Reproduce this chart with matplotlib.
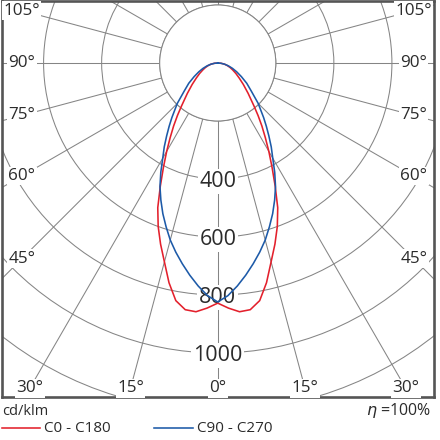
import numpy as np
import matplotlib
matplotlib.use("Agg")
import matplotlib.pyplot as plt
from matplotlib.lines import Line2D
from matplotlib.patches import Circle

plt.rcParams['font.family'] = ['Open Sans', 'DejaVu Sans']

# ---- data (cd/klm), angle from nadir in degrees ----
angles_deg = [0, 2.5, 5, 7.5, 10, 12.5, 15, 17.5, 20, 22.5, 25, 27.5, 30, 32.5,
              35, 37.5, 40, 45, 50, 55, 60, 65, 70, 75, 80, 85, 90]
c0_c180 = [828, 846, 861, 858, 832, 776, 710, 655, 600, 540, 468, 405, 352, 305,
           265, 228, 195, 148, 115, 90, 72, 57, 45, 34, 24, 12, 0]
c90_c270 = [824, 803, 772, 738, 703, 668, 632, 592, 553, 512, 471, 425, 379, 343,
            307, 275, 246, 197, 151, 122, 94, 72, 54, 38, 24, 11, 0]
ring_values = [200, 400, 600, 800, 1000, 1200, 1400]
ring_labels = [400, 600, 800, 1000]
angle_labels = [0, 15, 30, 45, 60, 75, 90, 105]
series_names = ['C0 - C180', 'C90 - C270']
unit_label = 'cd/klm'
efficiency = '100%'

RED = '#e3202c'
BLUE = '#1d5aa8'
GRID = '#858585'
TXT = '#2b2b2b'

W = H = 440
fig = plt.figure(figsize=(4.4, 4.4), dpi=100)
ax = fig.add_axes([1.5 / W, 1 - 397 / H, 432.5 / W, 396 / H])
ax.set_xlim(-745, 745)
ax.set_ylim(-1151.7, 213.8)
ax.set_xticks([])
ax.set_yticks([])
for s in ax.spines.values():
    s.set_color('#555555')
    s.set_linewidth(1.9)

# rings
for r in ring_values:
    ax.add_patch(Circle((0, 0), r, fill=False, ec=GRID, lw=0.75, zorder=1))

# radial lines every 15 deg
for a in range(0, 360, 15):
    t = np.deg2rad(a)
    dx, dy = np.sin(t), -np.cos(t)
    ax.plot([200 * dx, 2500 * dx], [200 * dy, 2500 * dy], color=GRID, lw=0.75, zorder=1)

# white inner disc (200 ring)
ax.add_patch(Circle((0, 0), 200, fc='white', ec=GRID, lw=0.75, zorder=1.5))

# angle labels placed where spoke meets an inset rectangle
xin, yin = 675, -1122
for a in angle_labels:
    for sgn in ([1] if a == 0 else [-1, 1]):
        t = np.deg2rad(a)
        dx, dy = sgn * np.sin(t), -np.cos(t)
        cands = []
        if abs(dx) > 1e-9:
            cands.append(xin / abs(dx))
        if dy < -1e-9:
            cands.append(yin / dy)
        tt = min(cands)
        ax.text(tt * dx, tt * dy, f'{a}°', ha='center', va='center', fontsize=12.3,
                color=TXT, zorder=3,
                bbox=dict(boxstyle='square,pad=0.08', fc='white', ec='none'))

# ring labels
for r in ring_labels:
    ax.text(0, -r - 8, f'{r}', ha='center', va='center', fontsize=15.5, color=TXT, zorder=3,
            bbox=dict(boxstyle='square,pad=0.08', fc='white', ec='none'))

# curves (symmetric halves)
ang = np.array(angles_deg, dtype=float)
full_ang = np.concatenate([-ang[::-1], ang[1:]])
for vals, col in [(c0_c180, RED), (c90_c270, BLUE)]:
    v = np.array(vals, dtype=float)
    full_v = np.concatenate([v[::-1], v[1:]])
    th = np.deg2rad(full_ang)
    ax.plot(full_v * np.sin(th), -full_v * np.cos(th), color=col, lw=1.15, zorder=4,
            solid_joinstyle='round')

# bottom legend / texts
fig.text(2 / W, 1 - 411 / H, unit_label, ha='left', va='center', fontsize=10.5, color=TXT)
fig.add_artist(Line2D([2 / W, 40 / W], [1 - 428 / H] * 2, color=RED, lw=1.15,
                      transform=fig.transFigure))
fig.text(44 / W, 1 - 428 / H, series_names[0], ha='left', va='center', fontsize=11, color=TXT)
fig.add_artist(Line2D([154 / W, 193 / W], [1 - 428 / H] * 2, color=BLUE, lw=1.15,
                      transform=fig.transFigure))
fig.text(197 / W, 1 - 428 / H, series_names[1], ha='left', va='center', fontsize=11, color=TXT)
fig.text(431 / W, 1 - 410 / H, r'$\eta$ =' + efficiency, ha='right',
         va='center', fontsize=11.5, color=TXT)

fig.savefig('out.png', dpi=100)
